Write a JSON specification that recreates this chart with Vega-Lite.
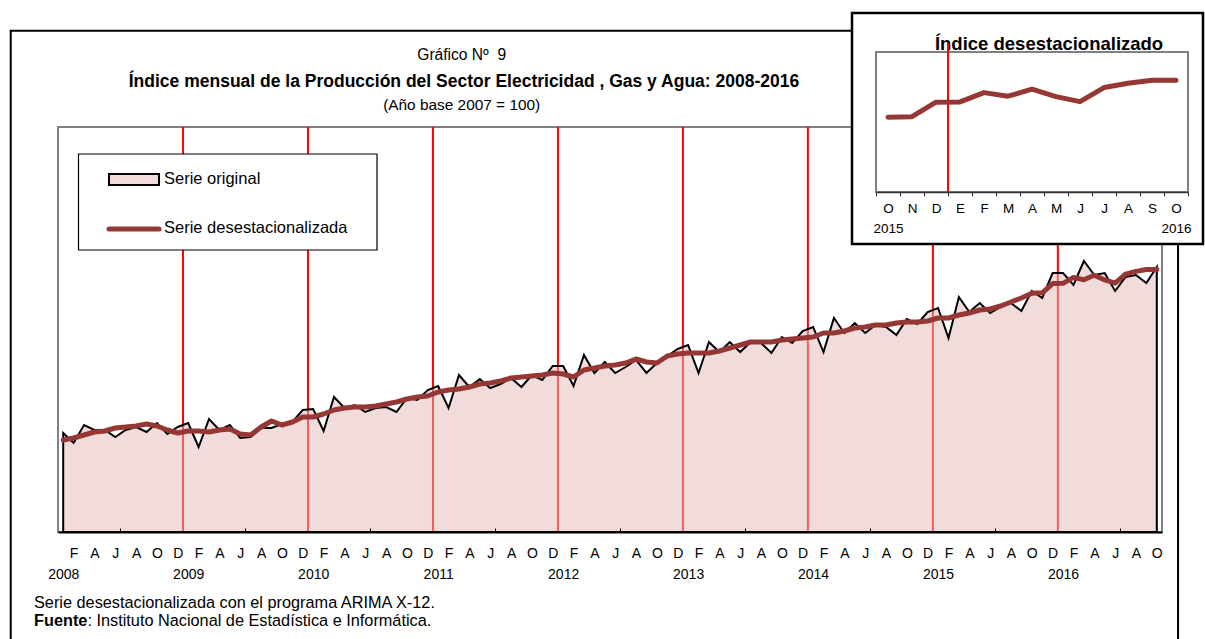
{
  "$schema": "https://vega.github.io/schema/vega-lite/v6.json",
  "width": 1104,
  "height": 405,
  "autosize": "none",
  "padding": {"left": 58, "top": 127, "right": 43, "bottom": 107},
  "background": "white",
  "datasets": {
    "serie": [
      {"t":0,"fecha":"2008-01","original":104.44,"desestacionalizada":102.72},
      {"t":1,"fecha":"2008-02","original":101.98,"desestacionalizada":103.21},
      {"t":2,"fecha":"2008-03","original":106.42,"desestacionalizada":103.95},
      {"t":3,"fecha":"2008-04","original":105.19,"desestacionalizada":104.69},
      {"t":4,"fecha":"2008-05","original":105.19,"desestacionalizada":104.94},
      {"t":5,"fecha":"2008-06","original":103.46,"desestacionalizada":105.68},
      {"t":6,"fecha":"2008-07","original":105.19,"desestacionalizada":105.93},
      {"t":7,"fecha":"2008-08","original":105.93,"desestacionalizada":106.17},
      {"t":8,"fecha":"2008-09","original":104.69,"desestacionalizada":106.67},
      {"t":9,"fecha":"2008-10","original":106.91,"desestacionalizada":106.17},
      {"t":10,"fecha":"2008-11","original":104.20,"desestacionalizada":105.19},
      {"t":11,"fecha":"2008-12","original":105.93,"desestacionalizada":104.44},
      {"t":12,"fecha":"2009-01","original":106.91,"desestacionalizada":104.94},
      {"t":13,"fecha":"2009-02","original":100.99,"desestacionalizada":104.94},
      {"t":14,"fecha":"2009-03","original":107.90,"desestacionalizada":104.69},
      {"t":15,"fecha":"2009-04","original":105.19,"desestacionalizada":105.19},
      {"t":16,"fecha":"2009-05","original":106.42,"desestacionalizada":105.43},
      {"t":17,"fecha":"2009-06","original":103.21,"desestacionalizada":104.20},
      {"t":18,"fecha":"2009-07","original":103.46,"desestacionalizada":103.95},
      {"t":19,"fecha":"2009-08","original":105.68,"desestacionalizada":105.93},
      {"t":20,"fecha":"2009-09","original":105.68,"desestacionalizada":107.41},
      {"t":21,"fecha":"2009-10","original":106.67,"desestacionalizada":106.42},
      {"t":22,"fecha":"2009-11","original":107.16,"desestacionalizada":107.16},
      {"t":23,"fecha":"2009-12","original":110.12,"desestacionalizada":108.40},
      {"t":24,"fecha":"2010-01","original":110.37,"desestacionalizada":108.40},
      {"t":25,"fecha":"2010-02","original":104.94,"desestacionalizada":109.14},
      {"t":26,"fecha":"2010-03","original":113.33,"desestacionalizada":110.12},
      {"t":27,"fecha":"2010-04","original":110.62,"desestacionalizada":110.62},
      {"t":28,"fecha":"2010-05","original":111.36,"desestacionalizada":110.86},
      {"t":29,"fecha":"2010-06","original":109.63,"desestacionalizada":110.86},
      {"t":30,"fecha":"2010-07","original":110.62,"desestacionalizada":111.11},
      {"t":31,"fecha":"2010-08","original":110.86,"desestacionalizada":111.60},
      {"t":32,"fecha":"2010-09","original":109.63,"desestacionalizada":112.10},
      {"t":33,"fecha":"2010-10","original":113.09,"desestacionalizada":112.84},
      {"t":34,"fecha":"2010-11","original":112.59,"desestacionalizada":113.33},
      {"t":35,"fecha":"2010-12","original":115.06,"desestacionalizada":113.58},
      {"t":36,"fecha":"2011-01","original":116.05,"desestacionalizada":114.57},
      {"t":37,"fecha":"2011-02","original":110.62,"desestacionalizada":115.06},
      {"t":38,"fecha":"2011-03","original":118.77,"desestacionalizada":115.31},
      {"t":39,"fecha":"2011-04","original":115.80,"desestacionalizada":115.80},
      {"t":40,"fecha":"2011-05","original":117.78,"desestacionalizada":116.54},
      {"t":41,"fecha":"2011-06","original":115.56,"desestacionalizada":116.79},
      {"t":42,"fecha":"2011-07","original":116.54,"desestacionalizada":117.28},
      {"t":43,"fecha":"2011-08","original":118.02,"desestacionalizada":118.02},
      {"t":44,"fecha":"2011-09","original":115.80,"desestacionalizada":118.27},
      {"t":45,"fecha":"2011-10","original":118.77,"desestacionalizada":118.52},
      {"t":46,"fecha":"2011-11","original":117.53,"desestacionalizada":118.77},
      {"t":47,"fecha":"2011-12","original":120.99,"desestacionalizada":119.26},
      {"t":48,"fecha":"2012-01","original":120.99,"desestacionalizada":119.01},
      {"t":49,"fecha":"2012-02","original":116.05,"desestacionalizada":118.27},
      {"t":50,"fecha":"2012-03","original":123.70,"desestacionalizada":120.00},
      {"t":51,"fecha":"2012-04","original":119.26,"desestacionalizada":120.49},
      {"t":52,"fecha":"2012-05","original":121.98,"desestacionalizada":120.99},
      {"t":53,"fecha":"2012-06","original":119.26,"desestacionalizada":121.23},
      {"t":54,"fecha":"2012-07","original":120.74,"desestacionalizada":121.73},
      {"t":55,"fecha":"2012-08","original":122.47,"desestacionalizada":122.72},
      {"t":56,"fecha":"2012-09","original":119.26,"desestacionalizada":121.98},
      {"t":57,"fecha":"2012-10","original":121.73,"desestacionalizada":121.73},
      {"t":58,"fecha":"2012-11","original":123.46,"desestacionalizada":123.46},
      {"t":59,"fecha":"2012-12","original":125.19,"desestacionalizada":123.95},
      {"t":60,"fecha":"2013-01","original":126.17,"desestacionalizada":124.20},
      {"t":61,"fecha":"2013-02","original":119.26,"desestacionalizada":124.20},
      {"t":62,"fecha":"2013-03","original":126.91,"desestacionalizada":124.20},
      {"t":63,"fecha":"2013-04","original":124.44,"desestacionalizada":124.69},
      {"t":64,"fecha":"2013-05","original":126.91,"desestacionalizada":125.43},
      {"t":65,"fecha":"2013-06","original":124.44,"desestacionalizada":126.17},
      {"t":66,"fecha":"2013-07","original":126.91,"desestacionalizada":126.91},
      {"t":67,"fecha":"2013-08","original":126.67,"desestacionalizada":126.91},
      {"t":68,"fecha":"2013-09","original":124.20,"desestacionalizada":126.91},
      {"t":69,"fecha":"2013-10","original":128.15,"desestacionalizada":127.41},
      {"t":70,"fecha":"2013-11","original":126.67,"desestacionalizada":127.65},
      {"t":71,"fecha":"2013-12","original":129.63,"desestacionalizada":127.90},
      {"t":72,"fecha":"2014-01","original":130.62,"desestacionalizada":128.15},
      {"t":73,"fecha":"2014-02","original":124.44,"desestacionalizada":129.14},
      {"t":74,"fecha":"2014-03","original":132.84,"desestacionalizada":129.14},
      {"t":75,"fecha":"2014-04","original":129.14,"desestacionalizada":129.63},
      {"t":76,"fecha":"2014-05","original":131.60,"desestacionalizada":130.37},
      {"t":77,"fecha":"2014-06","original":129.14,"desestacionalizada":130.62},
      {"t":78,"fecha":"2014-07","original":131.11,"desestacionalizada":131.11},
      {"t":79,"fecha":"2014-08","original":130.62,"desestacionalizada":131.11},
      {"t":80,"fecha":"2014-09","original":128.64,"desestacionalizada":131.60},
      {"t":81,"fecha":"2014-10","original":132.59,"desestacionalizada":131.85},
      {"t":82,"fecha":"2014-11","original":131.36,"desestacionalizada":131.85},
      {"t":83,"fecha":"2014-12","original":134.32,"desestacionalizada":132.10},
      {"t":84,"fecha":"2015-01","original":135.31,"desestacionalizada":132.84},
      {"t":85,"fecha":"2015-02","original":127.90,"desestacionalizada":132.84},
      {"t":86,"fecha":"2015-03","original":138.02,"desestacionalizada":133.58},
      {"t":87,"fecha":"2015-04","original":134.32,"desestacionalizada":134.07},
      {"t":88,"fecha":"2015-05","original":136.54,"desestacionalizada":134.81},
      {"t":89,"fecha":"2015-06","original":134.07,"desestacionalizada":135.06},
      {"t":90,"fecha":"2015-07","original":135.56,"desestacionalizada":135.80},
      {"t":91,"fecha":"2015-08","original":136.54,"desestacionalizada":136.79},
      {"t":92,"fecha":"2015-09","original":134.57,"desestacionalizada":137.78},
      {"t":93,"fecha":"2015-10","original":139.51,"desestacionalizada":138.96},
      {"t":94,"fecha":"2015-11","original":137.78,"desestacionalizada":139.05},
      {"t":95,"fecha":"2015-12","original":143.95,"desestacionalizada":141.34},
      {"t":96,"fecha":"2016-01","original":143.95,"desestacionalizada":141.39},
      {"t":97,"fecha":"2016-02","original":140.99,"desestacionalizada":142.86},
      {"t":98,"fecha":"2016-03","original":146.91,"desestacionalizada":142.29},
      {"t":99,"fecha":"2016-04","original":143.46,"desestacionalizada":143.40},
      {"t":100,"fecha":"2016-05","original":143.95,"desestacionalizada":142.23},
      {"t":101,"fecha":"2016-06","original":139.51,"desestacionalizada":141.43},
      {"t":102,"fecha":"2016-07","original":142.96,"desestacionalizada":143.66},
      {"t":103,"fecha":"2016-08","original":143.46,"desestacionalizada":144.35},
      {"t":104,"fecha":"2016-09","original":141.48,"desestacionalizada":144.83},
      {"t":105,"fecha":"2016-10","original":145.43,"desestacionalizada":144.83}
    ],
    "limites": [
      {"t": 11.5}, {"t": 23.5}, {"t": 35.5}, {"t": 47.5},
      {"t": 59.5}, {"t": 71.5}, {"t": 83.5}, {"t": 95.5}
    ]
  },
  "layer": [
    {
      "data": {"values": [{}]},
      "mark": {"type": "rect", "fillOpacity": 0, "stroke": "black", "strokeWidth": 2},
      "encoding": {
        "x": {"datum": -5.04, "type": "quantitative", "scale": {"domain": [-0.5, 105.5], "nice": false, "zero": false}, "axis": null},
        "x2": {"datum": 107.04},
        "y": {"datum": 203.78, "type": "quantitative", "scale": {"domain": [80, 180], "nice": false, "zero": false}, "axis": null},
        "y2": {"datum": 38.5}
      }
    },
    {
      "data": {"name": "limites"},
      "mark": {"type": "rule", "color": "#ff0000", "strokeWidth": 2},
      "encoding": {
        "x": {"field": "t", "type": "quantitative", "scale": {"domain": [-0.5, 105.5], "nice": false, "zero": false}, "axis": null}
      }
    },
    {
      "data": {"name": "serie"},
      "mark": {"type": "area", "fill": "#E5BAB8", "fillOpacity": 0.5, "stroke": "black", "strokeWidth": 2, "strokeOpacity": 1},
      "encoding": {
        "x": {
          "field": "t", "type": "quantitative",
          "scale": {"domain": [-0.5, 105.5], "nice": false, "zero": false},
          "axis": {
            "orient": "bottom",
            "title": null,
            "grid": false,
            "zindex": 1,
            "values": [0,1,2,3,4,5,6,7,8,9,10,11,12,13,14,15,16,17,18,19,20,21,22,23,24,25,26,27,28,29,30,31,32,33,34,35,36,37,38,39,40,41,42,43,44,45,46,47,48,49,50,51,52,53,54,55,56,57,58,59,60,61,62,63,64,65,66,67,68,69,70,71,72,73,74,75,76,77,78,79,80,81,82,83,84,85,86,87,88,89,90,91,92,93,94,95,96,97,98,99,100,101,102,103,104,105,5.5,17.5,29.5,41.5,53.5,65.5,77.5,89.5,101.5],
            "labelExpr": "datum.value % 1 != 0 ? '' : [(datum.value % 2 == 1 ? substring('FAJAOD', (datum.value % 12 - 1) / 2, (datum.value % 12 + 1) / 2) : ''), (datum.value % 12 == 0 ? '' + (2008 + floor(datum.value / 12)) : '')]",
            "labelOverlap": false,
            "labelFlush": false,
            "labelBound": false,
            "labelFontSize": 14,
            "labelColor": "black",
            "labelLineHeight": 21,
            "labelPadding": 18,
            "labelAngle": 0,
            "labelAlign": "center",
            "labelBaseline": "top",
            "domainColor": "black",
            "domainWidth": 2,
            "tickColor": "black",
            "tickWidth": 1,
            "tickSize": -4,
            "tickOpacity": {"condition": {"test": "datum.value % 1 != 0", "value": 1}, "value": 0}
          }
        },
        "y": {"field": "original", "type": "quantitative", "scale": {"domain": [80, 180], "nice": false, "zero": false}, "axis": null},
        "y2": {"datum": 80}
      }
    },
    {
      "data": {"name": "serie"},
      "mark": {"type": "line", "color": "#953735", "strokeWidth": 5, "strokeCap": "round", "strokeJoin": "round"},
      "encoding": {
        "x": {"field": "t", "type": "quantitative", "scale": {"domain": [-0.5, 105.5], "nice": false, "zero": false}, "axis": null},
        "y": {"field": "desestacionalizada", "type": "quantitative", "scale": {"domain": [80, 180], "nice": false, "zero": false}, "axis": null}
      }
    },
    {
      "data": {"values": [{}]},
      "mark": {"type": "rect", "fill": "white", "stroke": "black", "strokeWidth": 1.2},
      "encoding": {
        "x": {"datum": 1.468, "type": "quantitative", "scale": {"domain": [-0.5, 105.5], "nice": false, "zero": false}, "axis": null},
        "x2": {"datum": 30.13},
        "y": {"datum": 173.33, "type": "quantitative", "scale": {"domain": [80, 180], "nice": false, "zero": false}, "axis": null},
        "y2": {"datum": 149.63}
      }
    },
    {
      "data": {"values": [{}]},
      "mark": {"type": "rect", "fill": "#F2DCDB", "stroke": "black", "strokeWidth": 2},
      "encoding": {
        "x": {"datum": 4.397, "type": "quantitative", "scale": {"domain": [-0.5, 105.5], "nice": false, "zero": false}, "axis": null},
        "x2": {"datum": 9.198},
        "y": {"datum": 168.4, "type": "quantitative", "scale": {"domain": [80, 180], "nice": false, "zero": false}, "axis": null},
        "y2": {"datum": 165.68}
      }
    },
    {
      "data": {"values": [{}]},
      "mark": {"type": "rule", "color": "#953735", "strokeWidth": 5, "strokeCap": "round"},
      "encoding": {
        "x": {"datum": 4.397, "type": "quantitative", "scale": {"domain": [-0.5, 105.5], "nice": false, "zero": false}, "axis": null},
        "x2": {"datum": 9.198},
        "y": {"datum": 154.81, "type": "quantitative", "scale": {"domain": [80, 180], "nice": false, "zero": false}, "axis": null}
      }
    },
    {
      "data": {"values": [{}]},
      "mark": {"type": "text", "text": "Serie original", "fontSize": 16.5, "align": "left", "baseline": "middle", "color": "black"},
      "encoding": {
        "x": {"datum": 9.678, "type": "quantitative", "scale": {"domain": [-0.5, 105.5], "nice": false, "zero": false}, "axis": null},
        "y": {"datum": 167.04, "type": "quantitative", "scale": {"domain": [80, 180], "nice": false, "zero": false}, "axis": null}
      }
    },
    {
      "data": {"values": [{}]},
      "mark": {"type": "text", "text": "Serie desestacionalizada", "fontSize": 16.5, "align": "left", "baseline": "middle", "color": "black"},
      "encoding": {
        "x": {"datum": 9.678, "type": "quantitative", "scale": {"domain": [-0.5, 105.5], "nice": false, "zero": false}, "axis": null},
        "y": {"datum": 154.94, "type": "quantitative", "scale": {"domain": [80, 180], "nice": false, "zero": false}, "axis": null}
      }
    },
    {
      "data": {"values": [{}]},
      "mark": {"type": "text", "text": "Gráfico Nº \u00a09", "fontSize": 15.6, "align": "center", "baseline": "alphabetic", "color": "black"},
      "encoding": {
        "x": {"datum": 38.26, "type": "quantitative", "scale": {"domain": [-0.5, 105.5], "nice": false, "zero": false}, "axis": null},
        "y": {"datum": 196.5, "type": "quantitative", "scale": {"domain": [80, 180], "nice": false, "zero": false}, "axis": null}
      }
    },
    {
      "data": {"values": [{}]},
      "mark": {"type": "text", "text": "Índice mensual de la Producción del Sector Electricidad , Gas y Agua: 2008-2016", "fontSize": 17.5, "fontWeight": "bold", "align": "center", "baseline": "alphabetic", "color": "black"},
      "encoding": {
        "x": {"datum": 38.48, "type": "quantitative", "scale": {"domain": [-0.5, 105.5], "nice": false, "zero": false}, "axis": null},
        "y": {"datum": 189.8, "type": "quantitative", "scale": {"domain": [80, 180], "nice": false, "zero": false}, "axis": null}
      }
    },
    {
      "data": {"values": [{}]},
      "mark": {"type": "text", "text": "(Año base 2007 = 100)", "fontSize": 15.4, "align": "center", "baseline": "alphabetic", "color": "black"},
      "encoding": {
        "x": {"datum": 38.26, "type": "quantitative", "scale": {"domain": [-0.5, 105.5], "nice": false, "zero": false}, "axis": null},
        "y": {"datum": 184.1, "type": "quantitative", "scale": {"domain": [80, 180], "nice": false, "zero": false}, "axis": null}
      }
    },
    {
      "data": {"values": [{}]},
      "mark": {"type": "text", "text": "Serie desestacionalizada con el programa ARIMA X-12.", "fontSize": 16.3, "align": "left", "baseline": "alphabetic", "color": "black"},
      "encoding": {
        "x": {"datum": -2.804, "type": "quantitative", "scale": {"domain": [-0.5, 105.5], "nice": false, "zero": false}, "axis": null},
        "y": {"datum": 61.2, "type": "quantitative", "scale": {"domain": [80, 180], "nice": false, "zero": false}, "axis": null}
      }
    },
    {
      "data": {"values": [{}]},
      "mark": {"type": "text", "text": "Fuente", "fontSize": 16.3, "fontWeight": "bold", "align": "left", "baseline": "alphabetic", "color": "black"},
      "encoding": {
        "x": {"datum": -2.804, "type": "quantitative", "scale": {"domain": [-0.5, 105.5], "nice": false, "zero": false}, "axis": null},
        "y": {"datum": 56.7, "type": "quantitative", "scale": {"domain": [80, 180], "nice": false, "zero": false}, "axis": null}
      }
    },
    {
      "data": {"values": [{}]},
      "mark": {"type": "text", "text": ": Instituto Nacional de Estadística e Informática.", "fontSize": 16.3, "dx": 53.4, "align": "left", "baseline": "alphabetic", "color": "black"},
      "encoding": {
        "x": {"datum": -2.804, "type": "quantitative", "scale": {"domain": [-0.5, 105.5], "nice": false, "zero": false}, "axis": null},
        "y": {"datum": 56.7, "type": "quantitative", "scale": {"domain": [80, 180], "nice": false, "zero": false}, "axis": null}
      }
    },
    {
      "data": {"values": [{}]},
      "mark": {"type": "rect", "fill": "white", "stroke": "black", "strokeWidth": 2.5},
      "encoding": {
        "x": {"datum": 91.5, "type": "quantitative", "scale": {"domain": [92.5, 105.5], "range": [818, 1130], "nice": false, "zero": false}, "axis": null},
        "x2": {"datum": 106.125},
        "y": {"datum": 155.48, "type": "quantitative", "scale": {"domain": [127.1, 149.3], "range": [65, -75], "nice": false, "zero": false}, "axis": null},
        "y2": {"datum": 118.85}
      }
    },
    {
      "data": {"values": [{}]},
      "mark": {"type": "rect", "fillOpacity": 0, "stroke": "#808080", "strokeWidth": 2},
      "encoding": {
        "x": {"datum": 92.5, "type": "quantitative", "scale": {"domain": [92.5, 105.5], "range": [818, 1130], "nice": false, "zero": false}, "axis": null},
        "x2": {"datum": 105.5},
        "y": {"datum": 149.3, "type": "quantitative", "scale": {"domain": [127.1, 149.3], "range": [65, -75], "nice": false, "zero": false}, "axis": null},
        "y2": {"datum": 127.1}
      }
    },
    {
      "data": {"values": [{}]},
      "mark": {"type": "text", "text": "Índice desestacionalizado", "fontSize": 18.5, "fontWeight": "bold", "align": "center", "baseline": "alphabetic", "color": "black"},
      "encoding": {
        "x": {"datum": 99.71, "type": "quantitative", "scale": {"domain": [92.5, 105.5], "range": [818, 1130], "nice": false, "zero": false}, "axis": null},
        "y": {"datum": 149.62, "type": "quantitative", "scale": {"domain": [127.1, 149.3], "range": [65, -75], "nice": false, "zero": false}, "axis": null}
      }
    },
    {
      "data": {"values": [{"t": 95.5}]},
      "mark": {"type": "rule", "color": "#ff0000", "strokeWidth": 2},
      "encoding": {
        "x": {"field": "t", "type": "quantitative", "scale": {"domain": [92.5, 105.5], "range": [818, 1130], "nice": false, "zero": false}, "axis": null},
        "y": {"datum": 127.1, "type": "quantitative", "scale": {"domain": [127.1, 149.3], "range": [65, -75], "nice": false, "zero": false}, "axis": null},
        "y2": {"datum": 150.73}
      }
    },
    {
      "data": {"name": "serie"},
      "transform": [{"filter": "datum.t >= 93"}],
      "mark": {"type": "line", "color": "#953735", "strokeWidth": 5, "strokeCap": "round", "strokeJoin": "round"},
      "encoding": {
        "x": {
          "field": "t", "type": "quantitative",
          "scale": {"domain": [92.5, 105.5], "range": [818, 1130], "nice": false, "zero": false},
          "axis": {
            "orient": "bottom",
            "offset": -340,
            "zindex": 2,
            "title": null,
            "grid": false,
            "values": [92.5,93,93.5,94,94.5,95,95.5,96,96.5,97,97.5,98,98.5,99,99.5,100,100.5,101,101.5,102,102.5,103,103.5,104,104.5,105,105.5],
            "labelExpr": "datum.value % 1 != 0 ? '' : [substring('ONDEFMAMJJASO', datum.value - 93, datum.value - 92), (datum.value == 93 ? '2015' : (datum.value == 105 ? '2016' : ''))]",
            "labelOverlap": false,
            "labelFlush": false,
            "labelBound": false,
            "labelFontSize": 13.5,
            "labelColor": "black",
            "labelLineHeight": 20,
            "labelPadding": 5,
            "labelAngle": 0,
            "labelAlign": "center",
            "labelBaseline": "top",
            "domainColor": "#333333",
            "domainWidth": 1.5,
            "tickColor": "#333333",
            "tickWidth": 1,
            "tickSize": 4,
            "tickOpacity": {"condition": {"test": "datum.value % 1 != 0", "value": 1}, "value": 0}
          }
        },
        "y": {"field": "desestacionalizada", "type": "quantitative", "scale": {"domain": [127.1, 149.3], "range": [65, -75], "nice": false, "zero": false}, "axis": null}
      }
    }
  ],
  "resolve": {
    "scale": {"x": "independent", "y": "independent"},
    "axis": {"x": "independent", "y": "independent"}
  },
  "config": {
    "view": {"stroke": "#808080", "strokeWidth": 2},
    "font": "Liberation Sans",
    "text": {"font": "Liberation Sans"}
  }
}
